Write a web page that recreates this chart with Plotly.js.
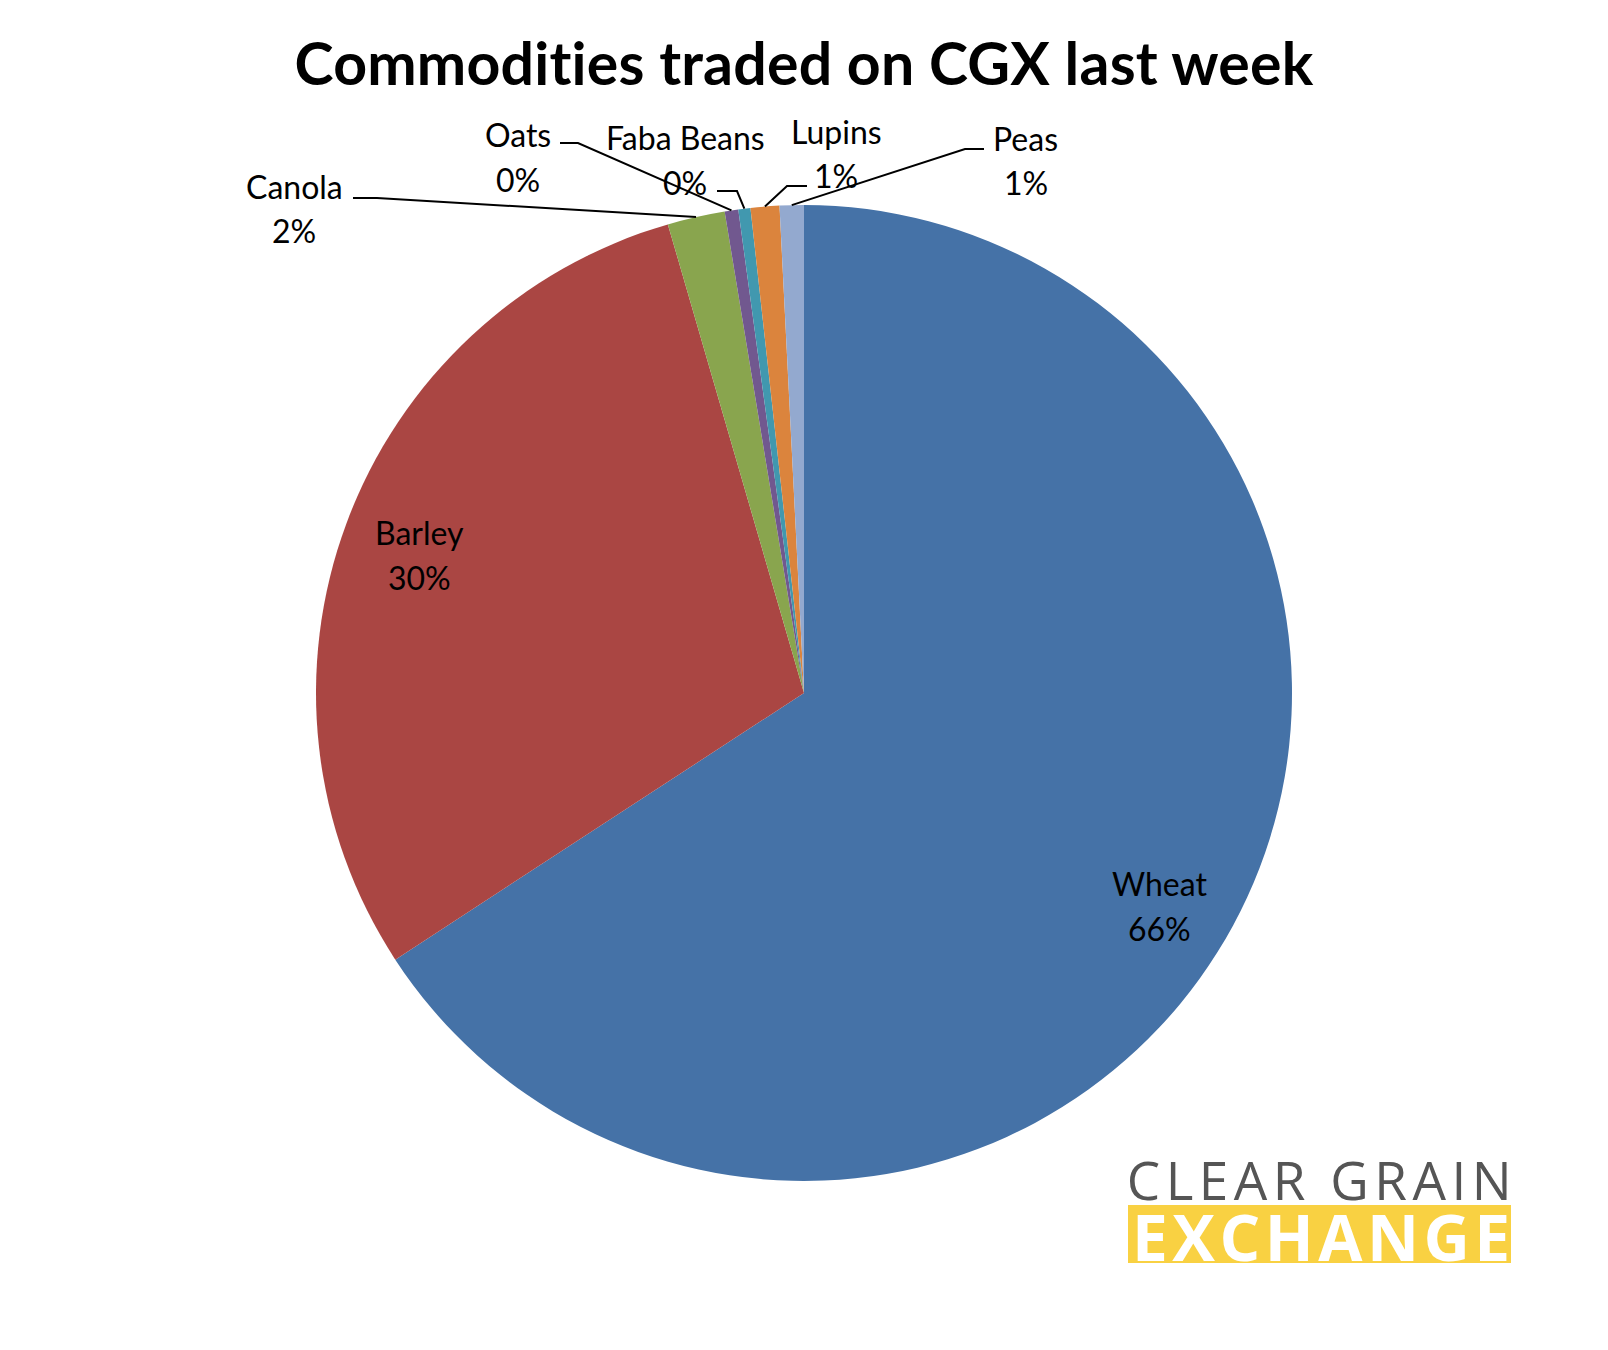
<!DOCTYPE html>
<html><head><meta charset="utf-8">
<script src="https://cdn.plot.ly/plotly-3.0.1.min.js"></script>
<style>html,body{margin:0;padding:0;background:#fff}</style>
</head><body><div id="chart" style="width:1608px;height:1350px"></div>
<script>
// ---- data ----
const categories = ['Wheat','Barley','Canola','Oats','Faba Beans','Lupins','Peas'];
const shares = [65.8, 29.7, 1.9, 0.45, 0.4, 0.95, 0.8];
const sliceColors = ['#4572A7','#AA4643','#89A54E','#71588F','#4198AF','#DB843D','#93A9CF'];
const titleText = 'Commodities traded on CGX last week';
const logoTop = 'CLEAR GRAIN';
const logoBottom = 'EXCHANGE';

// ---- layout geometry (pixels) ----
const W = 1608, H = 1350, CX = 804, CY = 693, R = 488;
const px = x => x / W, py = y => 1 - y / H;
const insideLayout = {
  'Wheat':  {k:0.84, dx:-5, dy:17},
  'Barley': {k:0.84, dx:0,  dy:4}
};
const outsideLayout = {
  'Canola':     {name:[294,187], pct:[294,230], start:[353,198], elbow:[377,198]},
  'Oats':       {name:[518,135], pct:[518,180], start:[560,143], elbow:[578,143]},
  'Faba Beans': {name:[685,137], pct:[685,182], start:[717,191], elbow:[737,191]},
  'Lupins':     {name:[836,132], pct:[836,176], start:[807,186], elbow:[787,186]},
  'Peas':       {name:[1025,138], pct:[1026,182], start:[984,149], elbow:[965,149]}
};
const labelFont = {family:'Lato, "Open Sans", sans-serif', size:32, color:'#000'};

const total = shares.reduce((a,b)=>a+b,0);
const annotations = [];
const shapes = [];
let cum = 0;
categories.forEach((c,i)=>{
  const frac = shares[i]/total;
  const mid = (cum + frac/2) * 2 * Math.PI;   // clockwise from 12 o'clock
  cum += frac;
  const pctTxt = Math.round(frac*100) + '%';
  if (insideLayout[c]) {
    const L = insideLayout[c];
    const x = CX + L.k*R*Math.sin(mid) + L.dx, y = CY - L.k*R*Math.cos(mid) + L.dy;
    annotations.push({xref:'paper',yref:'paper',x:px(x),y:py(y-22),text:c,showarrow:false,font:labelFont,xanchor:'center',yanchor:'middle'});
    annotations.push({xref:'paper',yref:'paper',x:px(x),y:py(y+23),text:pctTxt,showarrow:false,font:labelFont,xanchor:'center',yanchor:'middle'});
  } else {
    const L = outsideLayout[c];
    const ex = CX + R*Math.sin(mid), ey = CY - R*Math.cos(mid);
    annotations.push({xref:'paper',yref:'paper',x:px(L.name[0]),y:py(L.name[1]),text:c,showarrow:false,font:labelFont,xanchor:'center',yanchor:'middle'});
    annotations.push({xref:'paper',yref:'paper',x:px(L.pct[0]),y:py(L.pct[1]),text:pctTxt,showarrow:false,font:labelFont,xanchor:'center',yanchor:'middle'});
    shapes.push({type:'path',xref:'paper',yref:'paper',
      path:`M ${px(L.start[0])} ${py(L.start[1])} L ${px(L.elbow[0])} ${py(L.elbow[1])} L ${px(ex)} ${py(ey)}`,
      line:{color:'#000',width:2}});
  }
});

// logo
shapes.push({type:'rect',xref:'paper',yref:'paper',x0:px(1128),x1:px(1511),y0:py(1263),y1:py(1205),fillcolor:'#F9D142',line:{width:0},layer:'above'});
annotations.push({xref:'paper',yref:'paper',x:px(1322),y:py(1179),text:logoTop,showarrow:false,
  font:{family:'"Open Sans", sans-serif',size:53,color:'#555555'},xanchor:'center',yanchor:'middle'});
annotations.push({xref:'paper',yref:'paper',x:px(1323),y:py(1236),text:logoBottom,showarrow:false,
  font:{family:'"Open Sans", sans-serif',size:64,color:'#ffffff',weight:700},xanchor:'center',yanchor:'middle'});

const trace = {
  type:'pie', labels:categories, values:shares, sort:false, direction:'clockwise', rotation:0,
  marker:{colors:sliceColors, line:{width:0}},
  textinfo:'none', hoverinfo:'label+percent', showlegend:false,
  domain:{x:[px(CX-R), px(CX+R)], y:[py(CY+R), py(CY-R)]}
};

const layout = {
  width:W, height:H, margin:{l:0,r:0,t:0,b:0}, paper_bgcolor:'#fff',
  title:{text:titleText, x:0.5, xanchor:'center', y:py(64), yanchor:'middle',
    font:{family:'Lato, "Open Sans", sans-serif', size:59, color:'#000', weight:700}},
  annotations, shapes, showlegend:false
};

Plotly.newPlot('chart',[trace],layout,{displayModeBar:false,staticPlot:true}).then(()=>{
  const t = document.querySelector('text.gtitle');
  if (t) t.style.letterSpacing = '0.2px';
  document.querySelectorAll('g.annotation text').forEach(t=>{
    if (t.textContent === logoTop) t.style.letterSpacing = '5.5px';
    if (t.textContent === logoBottom) t.style.letterSpacing = '4.5px';
  });
});
</script></body></html>
